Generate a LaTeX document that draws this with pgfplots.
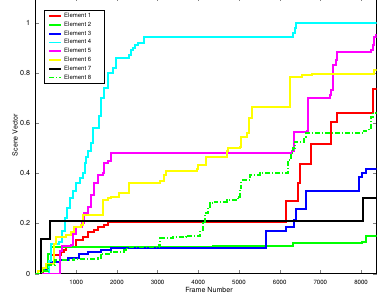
\documentclass[border=0pt]{standalone}
\usepackage{pgfplots}
\pgfplotsset{compat=1.18}
\usepackage{fontspec}
\setmainfont{TeX Gyre Heros}
\definecolor{mred}{rgb}{1,0,0}
\definecolor{mgreen}{rgb}{0,1,0}
\definecolor{mblue}{rgb}{0,0,1}
\definecolor{mcyan}{rgb}{0,1,1}
\definecolor{mmagenta}{rgb}{1,0,1}
\definecolor{myellow}{rgb}{1,1,0}
\definecolor{mblack}{rgb}{0,0,0}
\newcommand{\legtxt}[1]{#1\hspace*{7bp}}
\begin{document}
\begin{tikzpicture}
\begin{axis}[
  name=ax,
  scale only axis,
  width=341bp, height=276.1bp,
  xmin=0, xmax=8380, ymin=0, ymax=1.1,
  xtick={1000,2000,...,8000},
  ytick={0,0.2,0.4,0.6,0.8,1},
  yticklabels={0,0.2,0.4,0.6,0.8,1},
  scaled x ticks=false,
  xticklabel style={/pgf/number format/1000 sep={}, font=\fontsize{6.1bp}{7bp}\selectfont, yshift=-2.5bp},
  yticklabel style={font=\fontsize{7.2bp}{8bp}\selectfont, xshift=-1.8bp},
  /pgf/number format/assume math mode=true,
  tick align=inside,
  major tick length=3.2bp,
  axis line style={line width=0.8pt},
  xlabel={Frame Number},
  ylabel={Scene Vector},
  every axis x label/.style={at={(rel axis cs:0.5,0)}, xshift=3bp, yshift=-16bp, anchor=center, font=\fontsize{7.1bp}{8bp}\selectfont},
  every axis y label/.style={at={(rel axis cs:0,0.5)}, xshift=-20.5bp, yshift=0.5bp, rotate=90, anchor=center, font=\fontsize{7.1bp}{8bp}\selectfont},
  every axis plot/.append style={line width=2bp, const plot},
  legend style={at={(axis description cs:0.0255,0.955)}, anchor=north west,
    draw=black, line width=0.9pt, font=\fontsize{6bp}{7bp}\selectfont,
    inner xsep=4bp, inner ysep=0.8bp, row sep=-1.1bp,
    nodes={inner sep=2bp}},
  legend cell align=left,
  legend image code/.code={\draw[#1, line width=1.6bp] (0bp,0bp) -- (12bp,0bp);},
]
\addplot[mred] coordinates {
(0,0) (180,0.02) (300,0.035) (390,0.075) (630,0.088) (710,0.095) (760,0.107)
(1000,0.134) (1170,0.147) (1290,0.167) (1440,0.173) (1530,0.187) (1690,0.194)
(1780,0.207) (6150,0.29) (6440,0.36) (6500,0.437) (6760,0.516) (7260,0.605)
(7420,0.64) (8300,0.735) (8380,0.735)};
\addlegendentry{\legtxt{Element 1}}
\addplot[mgreen] coordinates {
(0,0) (150,0.02) (310,0.08) (370,0.107) (4370,0.11) (6320,0.121) (8030,0.127)
(8110,0.15) (8380,0.15)};
\addlegendentry{\legtxt{Element 2}}
\addplot[mblue] coordinates {
(0,0) (130,0.01) (260,0.035) (390,0.045) (600,0.055) (800,0.062) (1080,0.078)
(1290,0.088) (1610,0.094) (1850,0.101) (5670,0.171) (6160,0.187) (6350,0.214)
(6410,0.256) (6650,0.33) (7950,0.386) (8030,0.40) (8110,0.416) (8380,0.416)};
\addlegendentry{\legtxt{Element 3}}
\addplot[mcyan] coordinates {
(0,0) (330,0.05) (380,0.12) (585,0.127) (650,0.17) (720,0.22) (780,0.26)
(850,0.3) (920,0.33) (1000,0.36) (1100,0.38) (1170,0.40) (1210,0.44)
(1240,0.465) (1300,0.49) (1360,0.52) (1410,0.58) (1560,0.63) (1610,0.70)
(1690,0.74) (1780,0.80) (1900,0.82) (1980,0.86) (2300,0.87) (2340,0.89)
(2390,0.90) (2450,0.91) (2510,0.92) (2660,0.943) (6330,0.96) (6370,0.98)
(6410,1.0) (8380,1.0)};
\addlegendentry{\legtxt{Element 4}}
\addplot[mmagenta] coordinates {
(0,0) (600,0.09) (650,0.11) (880,0.115) (930,0.16) (1000,0.187) (1150,0.2)
(1200,0.24) (1290,0.267) (1370,0.313) (1440,0.36) (1530,0.393) (1660,0.40)
(1690,0.44) (1780,0.45) (1850,0.48) (6310,0.49) (6350,0.566) (6670,0.57)
(6690,0.70) (7230,0.71) (7260,0.73) (7300,0.83) (7390,0.85) (7420,0.885)
(8240,0.89) (8290,0.91) (8320,0.944) (8370,0.95) (8380,0.95)};
\addlegendentry{\legtxt{Element 5}}
\addplot[myellow] coordinates {
(0,0) (60,0.01) (150,0.023) (270,0.04) (460,0.12) (510,0.147) (760,0.154)
(880,0.167) (950,0.187) (1120,0.194) (1170,0.234) (1650,0.293) (1780,0.30)
(1850,0.307) (2050,0.32) (2300,0.36) (3070,0.37) (3150,0.393) (3200,0.41)
(3970,0.416) (4000,0.433) (4190,0.466) (4700,0.49) (4720,0.50) (5020,0.506)
(5060,0.546) (5190,0.56) (5250,0.62) (5310,0.665) (6260,0.782) (6560,0.79)
(6800,0.796) (8320,0.81) (8380,0.81)};
\addlegendentry{\legtxt{Element 6}}
\addplot[mblack] coordinates {
(0,0) (146,0.138) (350,0.211) (8060,0.30) (8380,0.30)};
\addlegendentry{\legtxt{Element 7}}
\addplot[mgreen, dash pattern=on 5bp off 2bp on 1bp off 2bp] coordinates {
(0,0) (150,0.01) (300,0.035) (470,0.055) (950,0.06) (1530,0.061) (1610,0.08)
(1850,0.088) (2170,0.094) (2260,0.107) (3030,0.114) (3070,0.141) (3390,0.147)
(3700,0.152) (4050,0.174) (4110,0.2) (4170,0.24) (4230,0.265) (4290,0.28)
(4410,0.287) (4700,0.293) (4980,0.307) (5020,0.34) (5060,0.373) (5270,0.393)
(5510,0.40) (6200,0.453) (6280,0.48) (6330,0.50) (6370,0.526) (6610,0.546)
(6650,0.56) (8070,0.57) (8200,0.58) (8240,0.625) (8300,0.64) (8380,0.64)};
\addlegendentry{\legtxt{Element 8}}
\end{axis}
\pgfresetboundingbox
\path ([xshift=-35.5bp,yshift=-28.3bp]ax.south west) rectangle ([xshift=0.5bp,yshift=-2.4bp]ax.north east);
\end{tikzpicture}
\end{document}
